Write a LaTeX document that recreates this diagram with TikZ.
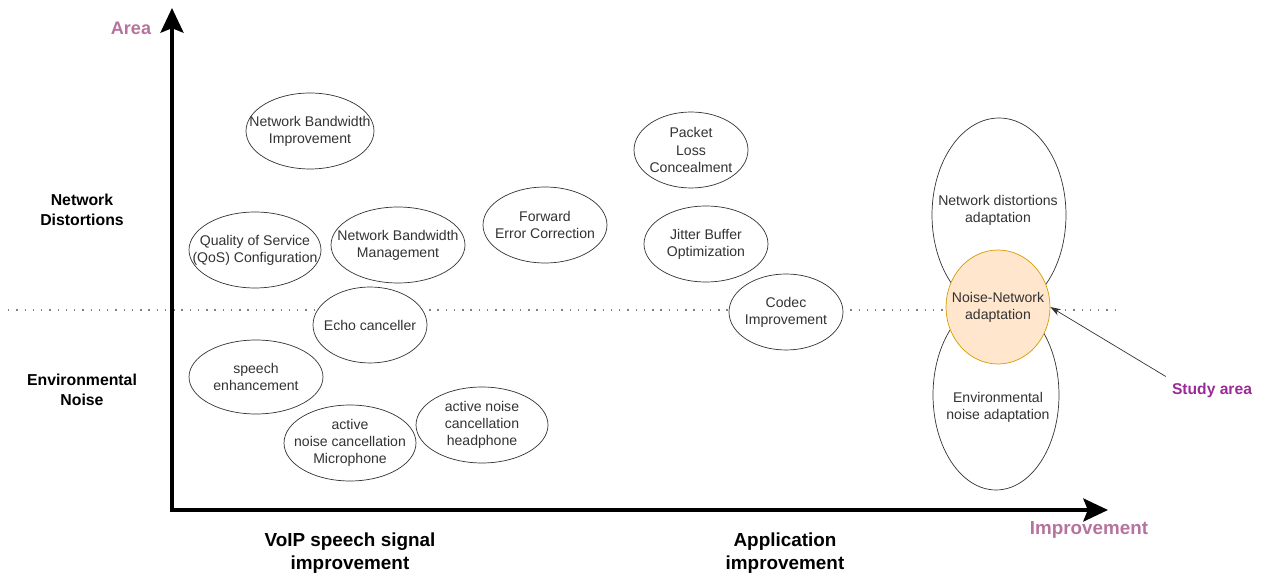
\documentclass[tikz,border=0pt]{standalone}
\usepackage{fontspec}
\setmainfont{Liberation Sans}
\usetikzlibrary{shapes.geometric,arrows.meta}
\definecolor{axislabel}{HTML}{B5739D}
\definecolor{studycol}{HTML}{9C2A96}
\definecolor{orfill}{HTML}{FFE6CC}
\definecolor{ordraw}{HTML}{D79B00}
\tikzstyle{txt}=[align=center,text=black!80,font=\fontsize{8}{9.8}\selectfont]
\tikzstyle{bubble}=[ellipse,draw=black!80,fill=white,thin,minimum width=2.5cm,minimum height=1.52cm,inner sep=0pt]
\tikzstyle{side}=[align=center,font=\bfseries\fontsize{9}{11}\selectfont]
\tikzstyle{bottom}=[align=center,font=\bfseries\fontsize{10.75}{12.8}\selectfont]
\tikzstyle{axis}=[line width=2.3pt,-{Stealth[width=13pt,length=14pt,inset=2.5pt]}]

\begin{document}
\begin{tikzpicture}[x=0.02cm,y=-0.02cm]
  \useasboundingbox (0,0) rectangle (1265,577);

  \coordinate (left)  at (8,310);
  \coordinate (right) at (1115,310);
  \draw[gray,line width=0.8pt,dash pattern=on 0.8pt off 3.9pt] (left) -- (right);

  \node[bubble, minimum width=2.56cm, label={[txt]center:{Network Bandwidth\\Improvement}}] (nbi) at (310,131) {};
  \node[bubble, minimum width=2.64cm, label={[txt]center:{Quality of Service\\(QoS) Configuration}}] (qos) at (255,250) {};
  \node[bubble, minimum width=2.68cm, label={[txt]center:{Network Bandwidth\\Management}}] (nbm) at (398,245) {};
  \node[bubble, minimum width=2.48cm, label={[txt]center:{Forward\\Error Correction}}] (fec) at (545,225) {};
  \node[bubble, minimum width=2.28cm, label={[txt]center:{Packet\\Loss\\Concealment}}] (plc) at (691,150) {};
  \node[bubble, minimum width=2.48cm, label={[txt]center:{Jitter Buffer\\Optimization}}] (jbo) at (706,244) {};
  \node[bubble, minimum width=2.28cm, label={[txt]center:{Codec\\Improvement}}] (cod) at (786,312) {};
  \node[bubble, minimum width=2.28cm, label={[txt]center:{Echo canceller}}] (echo) at (370,325) {};
  \node[bubble, minimum width=2.68cm, minimum height=1.48cm, label={[txt]center:{speech\\enhancement}}] (spe) at (256,377) {};
  \node[bubble, minimum width=2.64cm, label={[txt]center:{active\\noise cancellation\\Microphone}}] (ancm) at (350,443) {};
  \node[bubble, minimum width=2.64cm, label={[txt]center:{active noise\\cancellation\\headphone}}] (anch) at (482,425) {};

  % adaptation side
  \node[bubble, minimum width=2.68cm, minimum height=3.88cm] (netad) at (999,215) {};
  \node[bubble, minimum width=2.52cm, minimum height=3.80cm] (envad) at (996,395) {};
  \node[txt] (netadtxt) at (998,210) {Network distortions\\adaptation};
  \node[txt] (envadtxt) at (998,407) {Environmental\\noise adaptation};
  \node[bubble, draw=ordraw, fill=orfill, minimum width=2.08cm, minimum height=2.28cm,
        label={[txt]center:{Noise-Network\\adaptation}}] (nn) at (998,307) {};

  \node[font=\bfseries\fontsize{8.9}{11}\selectfont, text=studycol] (study) at (1212,390) {Study area};
  \draw[black!80,-{Stealth[length=6pt,width=4pt]}] (study.north west) -- (nn.east);

  % axes
  \coordinate (o)   at (172,510);
  \coordinate (top) at (172,8);
  \coordinate (end) at (1108,510);
  \draw[axis] (o) -- (top);
  \draw[axis] ([xshift=-1.15pt]o) -- (end);

  \node[text=axislabel, font=\bfseries\fontsize{10.3}{12}\selectfont] (area) at (131,28) {Area};
  \node[text=axislabel, font=\bfseries\fontsize{10.7}{12}\selectfont] (impr) at (1089,530) {Improvement};

  \node[side] (netdis) at (82,210) {Network\\Distortions};
  \node[side] (envnoise) at (82,390) {Environmental\\Noise};

  \node[bottom] (voip) at (350,553) {VoIP speech signal\\improvement};
  \node[bottom] (app)  at (785,553) {Application\\improvement};
\end{tikzpicture}
\end{document}
